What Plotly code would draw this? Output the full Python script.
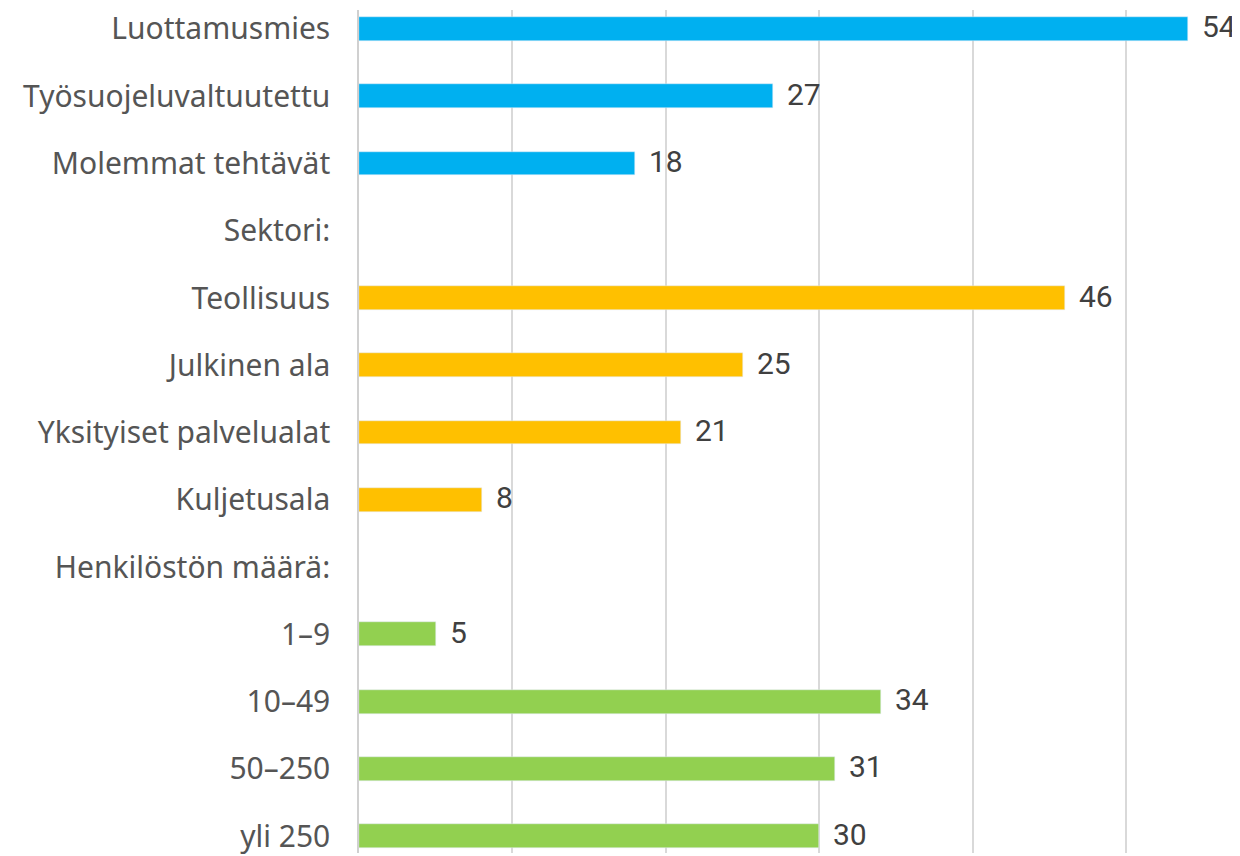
import plotly.graph_objects as go

categories = ["Luottamusmies", "Työsuojeluvaltuutettu", "Molemmat tehtävät",
              "Sektori:", "Teollisuus", "Julkinen ala", "Yksityiset palvelualat",
              "Kuljetusala", "Henkilöstön määrä:", "1–9", "10–49", "50–250", "yli 250"]

role_labels = ["Luottamusmies", "Työsuojeluvaltuutettu", "Molemmat tehtävät"]
role_values = [54, 27, 18]

sector_labels = ["Teollisuus", "Julkinen ala", "Yksityiset palvelualat", "Kuljetusala"]
sector_values = [46, 25, 21, 8]

size_labels = ["1–9", "10–49", "50–250", "yli 250"]
size_values = [5, 34, 31, 30]

x_ticks = [0, 10, 20, 30, 40, 50, 60]

fig = go.Figure()
for labels, values, color in [(role_labels, role_values, "#00B0F0"),
                              (sector_labels, sector_values, "#FFC000"),
                              (size_labels, size_values, "#92D050")]:
    fig.add_trace(go.Bar(y=labels, x=values, orientation="h", marker_color=color,
                         width=0.355, showlegend=False))
    for lab, val in zip(labels, values):
        fig.add_annotation(x=val, y=lab, text=str(val), showarrow=False,
                           xanchor="left", yanchor="middle", xshift=12, yshift=2,
                           font=dict(family="Roboto", size=30, color="#404040"))

# page body has an 8px margin; the figure is sized to end at the window edge
fig.update_layout(
    width=1232, height=848,
    margin=dict(l=351, r=0, t=0, b=0),
    paper_bgcolor="white", plot_bgcolor="white",
    font=dict(family="Noto Sans", size=30, color="#555555"),
    bargap=0,
)
fig.update_xaxes(range=[0, 57.4], tickvals=x_ticks, showticklabels=False,
                 showgrid=True, gridcolor="#d9d9d9", gridwidth=1.5,
                 zeroline=False, showline=False)
fig.update_yaxes(type="category", categoryorder="array", categoryarray=categories,
                 range=[12.25, -0.281], showgrid=False, ticks="", ticklabelstandoff=21,
                 showline=True, linecolor="#d0d0d0", linewidth=1.5)

fig.write_html("out.html")
